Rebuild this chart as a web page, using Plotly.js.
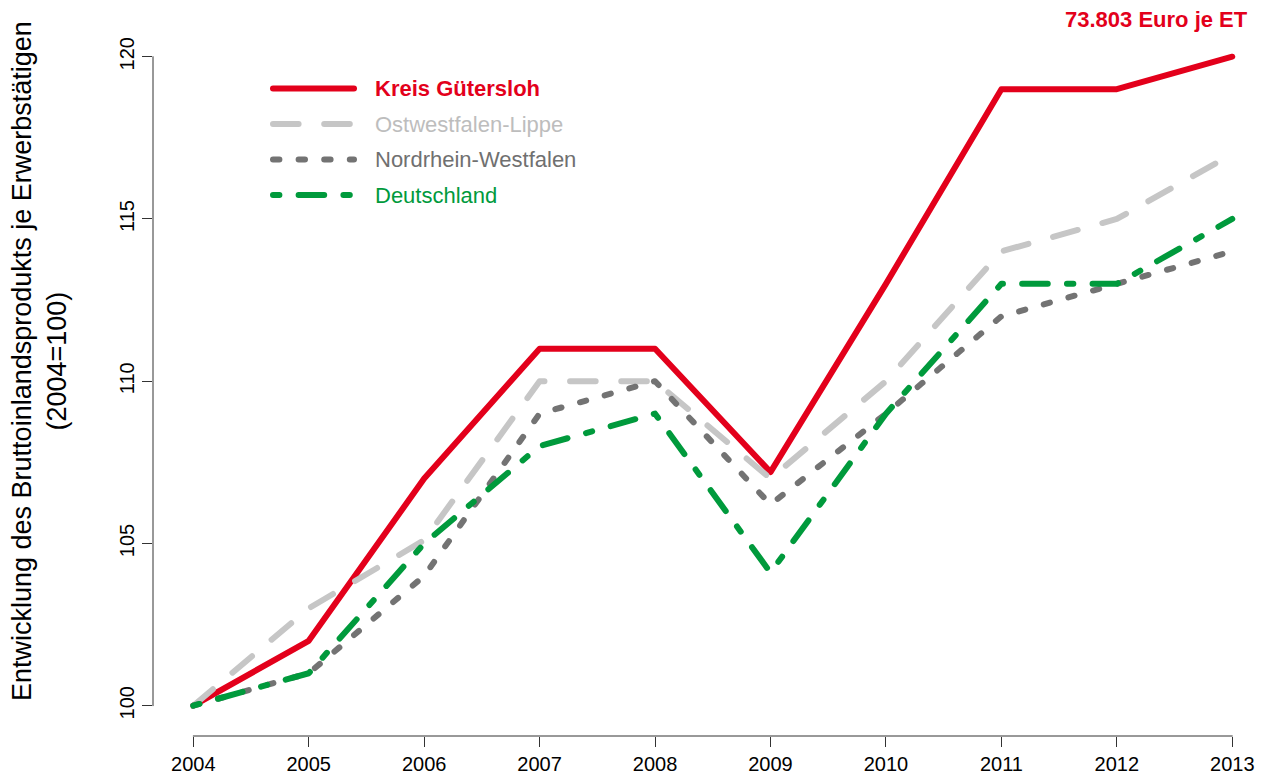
<!DOCTYPE html>
<html>
<head>
<meta charset="utf-8">
<script src="https://cdn.plot.ly/plotly-3.0.1.min.js"></script>
<style>
  html, body { margin: 0; padding: 0; background: #fff; }
  #chart { width: 1263px; height: 775px; }
  .scatterlayer .js-line { stroke-linecap: round; stroke-linejoin: round; }
  .shapelayer path { stroke-linecap: round; }
</style>
</head>
<body>
<div id="chart"></div>
<script>
// ---- data ----
const years = [2004, 2005, 2006, 2007, 2008, 2009, 2010, 2011, 2012, 2013];
const yearLabels = ["2004", "2005", "2006", "2007", "2008", "2009", "2010", "2011", "2012", "2013"];
const kreisGuetersloh = [100, 102, 107, 111, 111, 107.2, 113, 119, 119, 120];
const ostwestfalenLippe = [100, 103, 105.1, 110, 110, 107, 110, 114, 115, 117];
const nordrheinWestfalen = [100, 101, 104, 109, 110, 106.2, 109, 112, 113, 114];
const deutschland = [100, 101, 105, 108, 109, 104.1, 109, 113, 113, 115];
const seriesNames = ["Kreis Gütersloh", "Ostwestfalen-Lippe", "Nordrhein-Westfalen", "Deutschland"];
const yTicks = [100, 105, 110, 115, 120];
const yTitle = "Entwicklung des Bruttoinlandsprodukts je Erwerbstätigen<br>(2004=100)";
const cornerNote = "73.803 Euro je ET";

// ---- styles ----
const FONT = "Liberation Sans, Arial, Helvetica, sans-serif";
const RED = "#e3001b", LIGHT = "#c6c6c6", DARK = "#737373", GREEN = "#009a3c";
const LW = 6;
const dashes = ["solid", "25.6px,25.6px", "6.4px,19.2px", "6.4px,19.2px,25.6px,19.2px"];
const lineColors = [RED, LIGHT, DARK, GREEN];
const textColors = [RED, "#bdbdbd", "#707070", GREEN];
const seriesData = [kreisGuetersloh, ostwestfalenLippe, nordrheinWestfalen, deutschland];

const traces = seriesData.map((vals, i) => ({
  type: "scatter", mode: "lines", x: years, y: vals, name: seriesNames[i],
  line: { color: lineColors[i], width: LW, dash: dashes[i] },
  hoverinfo: "skip", showlegend: false
}));

// plot area in pixels: left 153, right 1255, top 40, bottom 736
const L = 153, W = 1102, T = 40, H = 696;
const px = x => (x - L) / W;
const py = y => (T + H - y) / H;

const legendY = [88.5, 124, 159.5, 195];
const shapes = [
  // R-style axis lines spanning first to last tick
  { type: "line", xref: "x", yref: "paper", x0: years[0], x1: years[years.length - 1], y0: 0, y1: 0,
    line: { color: "#333", width: 1 } },
  { type: "line", xref: "paper", yref: "y", x0: 0, x1: 0, y0: yTicks[0], y1: yTicks[yTicks.length - 1],
    line: { color: "#333", width: 1 } }
];
const annotations = [];
seriesNames.forEach((name, i) => {
  shapes.push({ type: "line", xref: "paper", yref: "paper",
    x0: px(273), x1: px(354), y0: py(legendY[i]), y1: py(legendY[i]),
    line: { color: lineColors[i], width: LW, dash: dashes[i] } });
  annotations.push({ xref: "paper", yref: "paper", x: px(373), y: py(legendY[i]),
    xanchor: "left", yanchor: "middle", showarrow: false,
    text: i === 0 ? "<b>" + name + "</b>" : name,
    font: { family: FONT, size: 22, color: textColors[i] } });
});
annotations.push({ xref: "paper", yref: "paper", x: px(1250), y: py(19),
  xanchor: "right", yanchor: "middle", showarrow: false,
  text: "<b>" + cornerNote + "</b>", font: { family: FONT, size: 22, color: RED } });
annotations.push({ xref: "paper", yref: "paper", x: px(40), y: py(361),
  xanchor: "center", yanchor: "middle", showarrow: false, textangle: -90,
  text: yTitle, align: "center", font: { family: FONT, size: 27, color: "#000" } });

const layout = {
  width: 1263, height: 775, autosize: false,
  margin: { l: L, r: 1263 - L - W, t: T, b: 775 - T - H, pad: 0 },
  paper_bgcolor: "#fff", plot_bgcolor: "#fff",
  font: { family: FONT, color: "#000" },
  xaxis: {
    range: [2003.651, 2013.197], tickmode: "array", tickvals: years, ticktext: yearLabels,
    ticks: "outside", ticklen: 10, tickwidth: 1, tickcolor: "#333",
    showgrid: false, zeroline: false, showline: false,
    tickfont: { family: FONT, size: 20, color: "#000" }
  },
  yaxis: {
    range: [99.066, 120.515], tickmode: "array", tickvals: yTicks, ticktext: yTicks.map(String),
    tickangle: -90, ticks: "outside", ticklen: 10, tickwidth: 1, tickcolor: "#333",
    showgrid: false, zeroline: false, showline: false,
    tickfont: { family: FONT, size: 20, color: "#000" }
  },
  shapes: shapes,
  annotations: annotations,
  showlegend: false
};

Plotly.newPlot("chart", traces, layout, { staticPlot: true, displayModeBar: false });
</script>
</body>
</html>
